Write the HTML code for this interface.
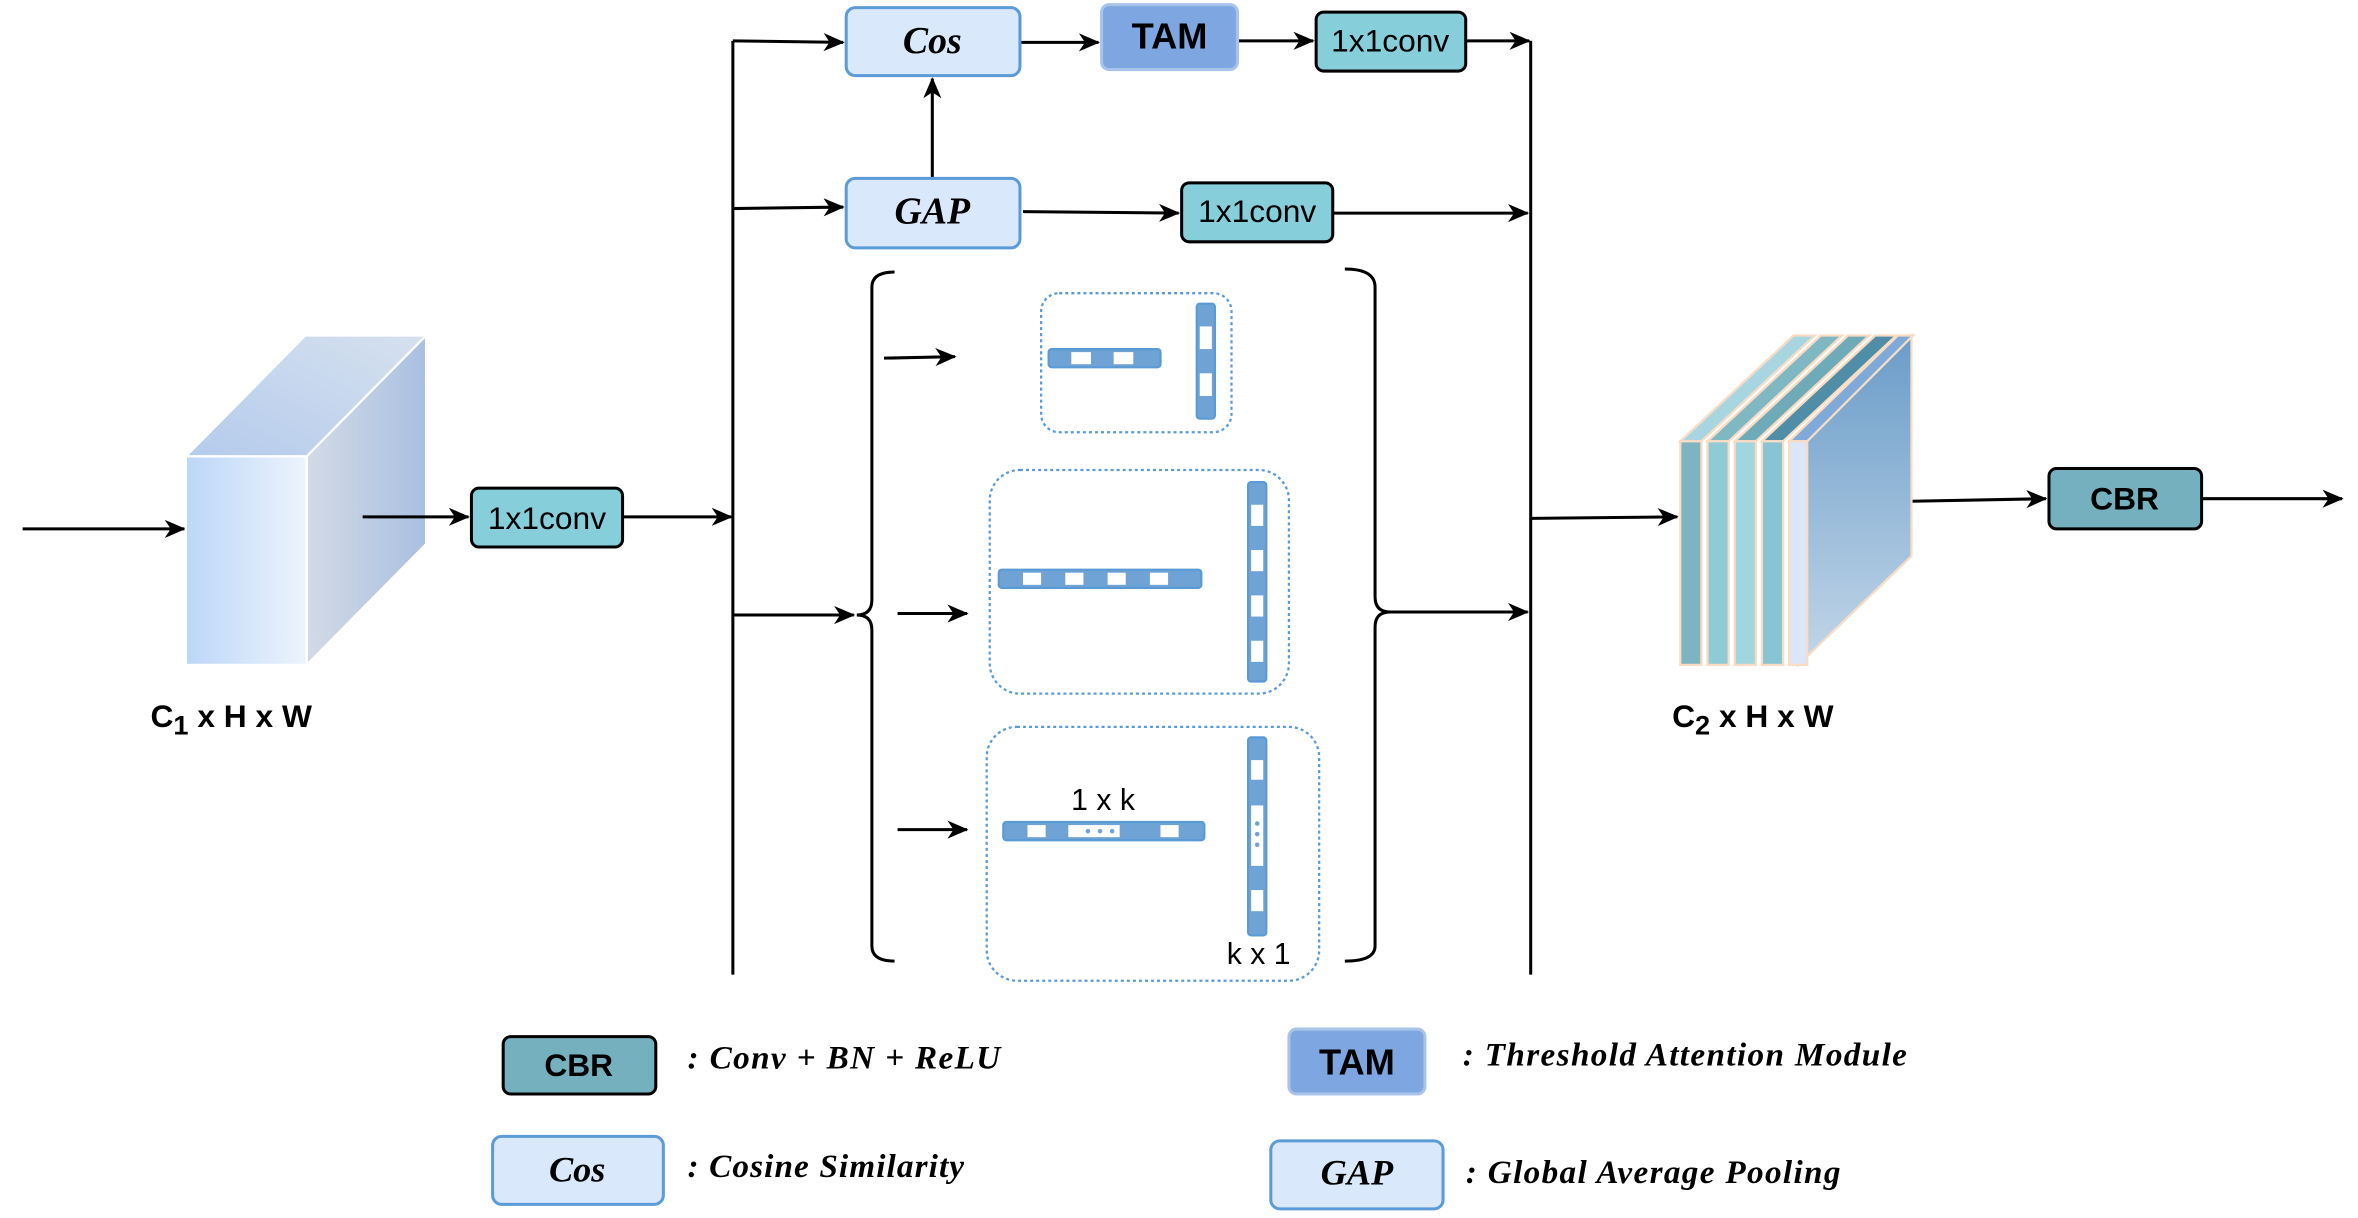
<!DOCTYPE html>
<html><head><meta charset="utf-8"><style>
html,body{margin:0;padding:0;background:#fff;width:2358px;height:1218px;overflow:hidden}
svg{display:block}
.s{font-family:"Liberation Sans",sans-serif}
.i{font-family:"Liberation Serif",serif;font-style:italic;font-weight:bold}
</style></head><body>
<svg width="2358" height="1218" viewBox="0 0 1560.5 806" xmlns="http://www.w3.org/2000/svg">
<defs>
<marker id="a" markerWidth="14" markerHeight="12" refX="13" refY="6" orient="auto" markerUnits="userSpaceOnUse" viewBox="0 0 14 12">
<path d="M0,0 L14,6 L0,12 L4,6 Z" fill="#000"/></marker>
<linearGradient id="fr" x1="0" x2="1" y1="0" y2="0"><stop offset="0" stop-color="#bcd6f8"/><stop offset="1" stop-color="#edf4fd"/></linearGradient>
<linearGradient id="tp" x1="0" x2="1" y1="1" y2="0"><stop offset="0" stop-color="#b4cbec"/><stop offset="1" stop-color="#d6e1ef"/></linearGradient>
<linearGradient id="rt" x1="0" x2="1"><stop offset="0" stop-color="#d3dae6"/><stop offset="1" stop-color="#a9c0e1"/></linearGradient>
<linearGradient id="bg" x1="0" x2="0" y1="0" y2="1"><stop offset="0" stop-color="#6a9cc9"/><stop offset="1" stop-color="#c2d6e8"/></linearGradient>
</defs>
<g stroke="#000" stroke-width="2" fill="none">
<line x1="15" y1="350" x2="122" y2="350" marker-end="url(#a)"/>
</g>
<polygon points="123,302 203,302 282,222 202,222" fill="url(#tp)" stroke="#fff" stroke-width="1.5"/>
<polygon points="203,302 282,222 282,360 203,440" fill="url(#rt)" stroke="#fff" stroke-width="1.5"/>
<rect x="123" y="302" width="80" height="138" fill="url(#fr)" stroke="#fff" stroke-width="1.5"/>
<g stroke="#000" stroke-width="2" fill="none">
<line x1="240" y1="342" x2="310" y2="342" marker-end="url(#a)"/>
<line x1="412" y1="342" x2="484" y2="342" marker-end="url(#a)"/>
<line x1="485" y1="27" x2="485" y2="645"/>
<line x1="1013" y1="27" x2="1013" y2="645"/>
<line x1="485" y1="27" x2="558" y2="28" marker-end="url(#a)"/>
<line x1="675" y1="28" x2="727" y2="28" marker-end="url(#a)"/>
<line x1="819" y1="27" x2="869" y2="27" marker-end="url(#a)"/>
<line x1="970" y1="27" x2="1012" y2="27" marker-end="url(#a)"/>
<line x1="485" y1="138" x2="558" y2="137" marker-end="url(#a)"/>
<line x1="617" y1="118" x2="617" y2="52" marker-end="url(#a)"/>
<line x1="677" y1="140" x2="780" y2="141" marker-end="url(#a)"/>
<line x1="882" y1="141" x2="1011" y2="141" marker-end="url(#a)"/>
<line x1="485" y1="407" x2="565" y2="407" marker-end="url(#a)"/>
<line x1="918" y1="405" x2="1011" y2="405" marker-end="url(#a)"/>
<line x1="585" y1="237" x2="632" y2="236" marker-end="url(#a)"/>
<line x1="594" y1="406" x2="640" y2="406" marker-end="url(#a)"/>
<line x1="594" y1="549" x2="640" y2="549" marker-end="url(#a)"/>
<line x1="1013" y1="343" x2="1110" y2="342" marker-end="url(#a)"/>
<line x1="1250" y1="332" x2="1354" y2="330" marker-end="url(#a)"/>
<line x1="1457" y1="330" x2="1550" y2="330" marker-end="url(#a)"/>
<path d="M592,180 Q577,180 577,190 L577,397 Q577,407 567,407 Q577,407 577,417 L577,626 Q577,636 592,636"/>
<path d="M890,178 Q910,178 910,190 L910,395 Q910,405 920,405 Q910,405 910,415 L910,626 Q910,636 890,636"/>
</g>
<rect x="312" y="323" width="100" height="39" rx="5" fill="#87cedb" stroke="#000" stroke-width="2"/>
<text x="362" y="350" text-anchor="middle" class="s" font-size="21">1x1conv</text>
<rect x="560" y="5" width="115" height="45" rx="6" fill="#dae8fc" stroke="#5a9bd8" stroke-width="2"/>
<text x="617" y="35" text-anchor="middle" class="i" font-size="25">Cos</text>
<rect x="729" y="3" width="90" height="43" rx="5" fill="#7ea6e0" stroke="#a9c4eb" stroke-width="2"/>
<text x="774" y="32" text-anchor="middle" class="s" font-weight="bold" font-size="24">TAM</text>
<rect x="871" y="8" width="99" height="39" rx="5" fill="#87cedb" stroke="#000" stroke-width="2"/>
<text x="920" y="34" text-anchor="middle" class="s" font-size="21">1x1conv</text>
<rect x="560" y="118" width="115" height="46" rx="6" fill="#dae8fc" stroke="#5a9bd8" stroke-width="2"/>
<text x="617" y="148" text-anchor="middle" class="i" font-size="25">GAP</text>
<rect x="782" y="121" width="100" height="39" rx="5" fill="#87cedb" stroke="#000" stroke-width="2"/>
<text x="832" y="147" text-anchor="middle" class="s" font-size="21">1x1conv</text>
<rect x="1356" y="310" width="101" height="40" rx="5" fill="#74b0be" stroke="#000" stroke-width="2"/>
<text x="1406" y="337" text-anchor="middle" class="s" font-weight="bold" font-size="21">CBR</text>
<g fill="none" stroke="#5b9bd5" stroke-width="1.5" stroke-dasharray="2,2">
<rect x="689" y="194" width="126" height="92" rx="12"/>
<rect x="655" y="311" width="198" height="148" rx="20"/>
<rect x="653" y="481" width="220" height="168" rx="20"/>
</g>
<g fill="#6fa3d6" stroke="#5b9bd5" stroke-width="1.5">
<rect x="694" y="231" width="74" height="12" rx="2"/>
<rect x="792" y="201" width="12" height="76" rx="2"/>
<rect x="661" y="377" width="134" height="12" rx="2"/>
<rect x="826" y="319" width="12" height="132" rx="2"/>
<rect x="664" y="544" width="133" height="12" rx="2"/>
<rect x="826" y="488" width="12" height="131" rx="2"/>
</g>
<g fill="#fff">
<rect x="709" y="233" width="13" height="8"/><rect x="737" y="233" width="13" height="8"/>
<rect x="794" y="216" width="8" height="15"/><rect x="794" y="247" width="8" height="15"/>
<rect x="677" y="379" width="12" height="8"/><rect x="705" y="379" width="12" height="8"/><rect x="733" y="379" width="12" height="8"/><rect x="761" y="379" width="12" height="8"/>
<rect x="828" y="334" width="8" height="14"/><rect x="828" y="364" width="8" height="14"/><rect x="828" y="394" width="8" height="14"/><rect x="828" y="424" width="8" height="14"/>
<rect x="680" y="546" width="12" height="8"/><rect x="707" y="546" width="34" height="8"/><rect x="768" y="546" width="12" height="8"/>
<rect x="828" y="503" width="8" height="13"/><rect x="828" y="533" width="8" height="40"/><rect x="828" y="589" width="8" height="14"/>
</g>
<g fill="#6fa3d6"><circle cx="720" cy="550" r="1.5"/><circle cx="728" cy="550" r="1.5"/><circle cx="736" cy="550" r="1.5"/>
<circle cx="832" cy="545" r="1.5"/><circle cx="832" cy="552" r="1.5"/><circle cx="832" cy="559" r="1.5"/></g>
<text x="730" y="536" text-anchor="middle" class="s" font-size="20">1 x k</text>
<text x="833" y="638" text-anchor="middle" class="s" font-size="20">k x 1</text>
<polygon points="1190,292 1265,222 1265,368 1190,440" fill="url(#bg)" stroke="#f9dcc4" stroke-width="1.5"/>
<g stroke="#f9dcc4" stroke-width="1.5">
<polygon points="1112,292 1126,292 1201,222 1187,222" fill="#a8d6e0"/>
<rect x="1112" y="292" width="14" height="148" fill="#7db4bf"/>
<polygon points="1130,292 1144,292 1219,222 1205,222" fill="#7fb7c3"/>
<rect x="1130" y="292" width="14" height="148" fill="#8fcbd6"/>
<polygon points="1148,292 1162,292 1237,222 1223,222" fill="#6faab8"/>
<rect x="1148" y="292" width="14" height="148" fill="#9fd6e0"/>
<polygon points="1166,292 1180,292 1255,222 1241,222" fill="#4f8ea6"/>
<rect x="1166" y="292" width="14" height="148" fill="#89c4d3"/>
<polygon points="1184,292 1196,292 1266,222 1256,222" fill="#7fa9d8"/>
<rect x="1184" y="292" width="12" height="148" fill="#dbe6f7"/>
</g>
<text x="153" y="481" text-anchor="middle" class="s" font-weight="bold" font-size="21">C<tspan font-size="18" dy="5">1</tspan><tspan dy="-5"> x H x W</tspan></text>
<text x="1160" y="481" text-anchor="middle" class="s" font-weight="bold" font-size="21">C<tspan font-size="18" dy="5">2</tspan><tspan dy="-5"> x H x W</tspan></text>
<rect x="333" y="686" width="101" height="38" rx="5" fill="#74b0be" stroke="#000" stroke-width="2"/>
<text x="383" y="712" text-anchor="middle" class="s" font-weight="bold" font-size="21">CBR</text>
<text x="455" y="707" class="i" font-size="22" textLength="207">: Conv + BN + ReLU</text>
<rect x="853" y="681" width="90" height="43" rx="5" fill="#7ea6e0" stroke="#a9c4eb" stroke-width="2"/>
<text x="898" y="711" text-anchor="middle" class="s" font-weight="bold" font-size="24">TAM</text>
<text x="968" y="705" class="i" font-size="22" textLength="294">: Threshold Attention Module</text>
<rect x="326" y="752" width="113" height="45" rx="6" fill="#dae8fc" stroke="#5a9bd8" stroke-width="2"/>
<text x="382" y="782" text-anchor="middle" class="i" font-size="24">Cos</text>
<text x="455" y="779" class="i" font-size="22" textLength="183">: Cosine Similarity</text>
<rect x="841" y="755" width="114" height="45" rx="6" fill="#dae8fc" stroke="#5a9bd8" stroke-width="2"/>
<text x="898" y="784" text-anchor="middle" class="i" font-size="24">GAP</text>
<text x="970" y="783" class="i" font-size="22" textLength="248">: Global Average Pooling</text>
</svg>
</body></html>
